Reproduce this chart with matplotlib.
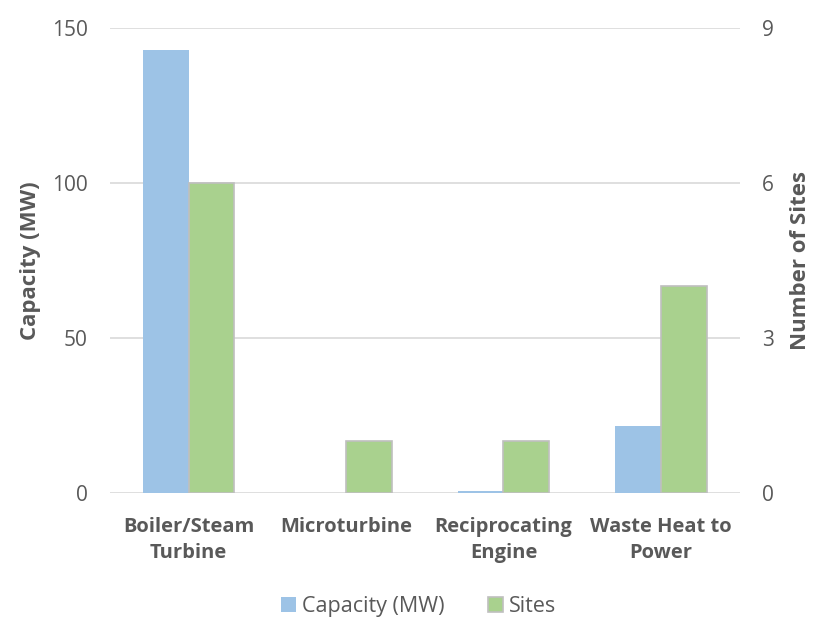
import numpy as np
import matplotlib.pyplot as plt

categories = ['Boiler/Steam\nTurbine', 'Microturbine', 'Reciprocating\nEngine', 'Waste Heat to\nPower']
capacity_mw = [142.8, 0.0, 0.7, 21.7]
sites = [6, 1, 1, 4]

blue = '#9DC3E6'
green = '#A9D18E'
gray = '#595959'

plt.rcParams['font.family'] = ['Open Sans', 'DejaVu Sans']

fig = plt.figure(figsize=(8.32, 6.2), dpi=100)
ax = fig.add_axes([0.132, 0.205, 0.757, 0.75])
ax2 = ax.twinx()

x = np.arange(len(categories))
w = 0.29
ax.bar(x - w/2, capacity_mw, w, color=blue, label='Capacity (MW)', zorder=3)
ax2.bar(x + w/2, sites, w, color=green, edgecolor='#BFBFBF', linewidth=1.2,
        label='Sites', zorder=3)

ax.set_xlim(-0.5, len(categories) - 0.5)
ax.set_ylim(0, 150)
ax2.set_ylim(0, 9)
ax.set_yticks([0, 50, 100, 150])
ax2.set_yticks([0, 3, 6, 9])
ax.yaxis.grid(True, color='#D9D9D9', linewidth=1.2, zorder=0)
ax.set_axisbelow(True)

for a in (ax, ax2):
    for s in a.spines.values():
        s.set_visible(False)
    a.tick_params(length=0, labelsize=15, colors=gray, pad=16)

ax.set_xticks(x)
ax.set_xticklabels(categories, fontweight='bold', fontsize=14.5, color=gray,
                   linespacing=1.45)
ax.tick_params(axis='x', pad=17)

ax.set_ylabel('Capacity (MW)', fontweight='bold', fontsize=16, color=gray, labelpad=8)
ax2.set_ylabel('Number of Sites', fontweight='bold', fontsize=16, color=gray, labelpad=12)

h1, l1 = ax.get_legend_handles_labels()
h2, l2 = ax2.get_legend_handles_labels()
fig.legend(h1 + h2, l1 + l2, loc='center', bbox_to_anchor=(0.503, 0.021),
           ncol=2, frameon=False, fontsize=15.5, labelcolor=gray,
           handlelength=0.7, handleheight=0.7, columnspacing=2.0, handletextpad=0.3)

fig.savefig('out.png', dpi=100)
